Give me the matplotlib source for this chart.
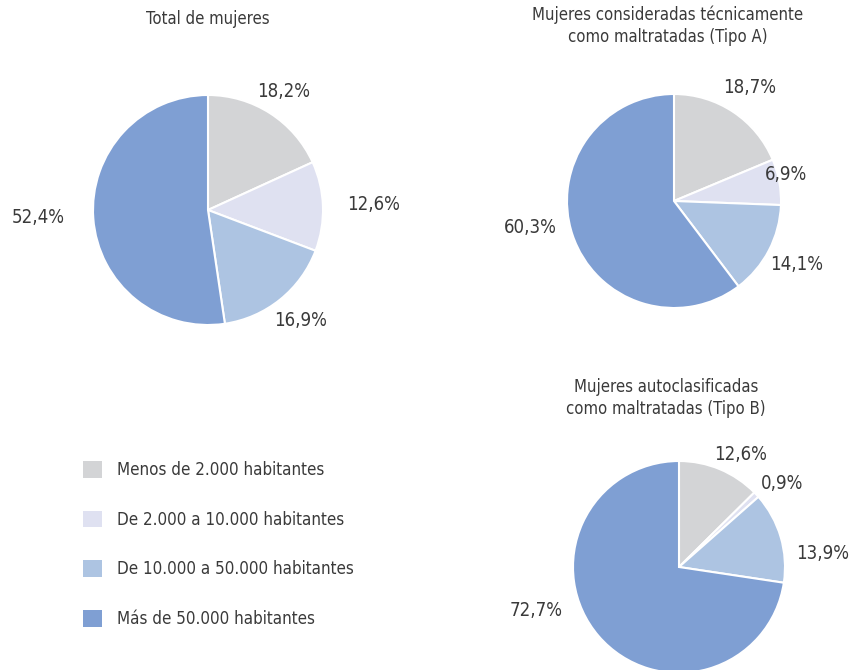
import numpy as np
import matplotlib.pyplot as plt
from matplotlib import font_manager

# --- Data ---
categories = ['Menos de 2.000 habitantes', 'De 2.000 a 10.000 habitantes',
              'De 10.000 a 50.000 habitantes', 'Más de 50.000 habitantes']
total = [18.2, 12.6, 16.9, 52.4]
tipo_a = [18.7, 6.9, 14.1, 60.3]
tipo_b = [12.6, 0.9, 13.9, 72.7]

titles = ['Total de mujeres',
          'Mujeres consideradas técnicamente\ncomo maltratadas (Tipo A)',
          'Mujeres autoclasificadas\ncomo maltratadas (Tipo B)']

colors = ['#d3d4d6', '#dfe1f1', '#adc4e2', '#7f9fd3']
text_color = '#3a3a3a'

# look for a narrow / condensed face, otherwise fall back to Roboto
cands = [f for f in font_manager.fontManager.ttflist
         if f.style == 'normal' and (
             'Narrow' in f.name or 'Condensed' in f.name
             or f.stretch in ('condensed', 'semi-condensed', 'extra-condensed'))]
if cands:
    pick = min(cands, key=lambda f: abs((f.weight if isinstance(f.weight, int) else 400) - 350))
    plt.rcParams['font.family'] = [pick.name, 'DejaVu Sans']
    plt.rcParams['font.stretch'] = pick.stretch
    plt.rcParams['font.weight'] = pick.weight
    narrow = True
else:
    plt.rcParams['font.family'] = ['Roboto', 'DejaVu Sans']
    narrow = False

fs_lab = 13.4 if narrow else 11.8
fs_leg = 12.2 if narrow else 11
fs_tit = 12 if narrow else 10.8

W, H = 850, 670
fig = plt.figure(figsize=(W / 100, H / 100), dpi=100)
ax = fig.add_axes([0, 0, 1, 1])

# layout: (center x, center y from top, radius, title y from top)
pies = [
    (total, (208, 210), 115, 19),
    (tipo_a, (674, 201), 107, 25.5),
    (tipo_b, (679, 567), 106, 398),
]
title_x = [208, 668, 666]
# label placement: distance (in radii) and angle shift (deg) for each wedge
label_dist = [[1.22, 1.44, 1.25, 1.48],
              [1.27, 1.08, 1.29, 1.37],
              [1.21, 1.25, 1.36, 1.41]]
label_shift = [[0, 0, 1, -1.6],
               [0, 3, 0, -8],
               [-6, -4, -11, -24]]

wedges_all = []
for i, (vals, (cx, cy), r, ty) in enumerate(pies):
    cy_ = H - cy
    wedges, _ = ax.pie(vals, colors=colors, startangle=90, counterclock=False,
                       center=(cx, cy_), radius=r, normalize=True,
                       wedgeprops=dict(edgecolor='white', linewidth=1.5))
    wedges_all.append(wedges)
    for j, w in enumerate(wedges):
        ang = np.deg2rad((w.theta1 + w.theta2) / 2 + label_shift[i][j])
        d = r * label_dist[i][j]
        ax.text(cx + d * np.cos(ang), cy_ + d * np.sin(ang),
                f'{vals[j]:.1f}%'.replace('.', ','),
                ha='center', va='center', fontsize=fs_lab, color=text_color)
    ax.text(title_x[i], H - ty, titles[i], ha='center', va='center',
            fontsize=fs_tit, color=text_color, linespacing=1.3)

ax.set_xlim(0, W)
ax.set_ylim(0, H)
ax.set_aspect('equal')
ax.axis('off')

leg = ax.legend(wedges_all[0], categories, loc='upper left',
                bbox_to_anchor=(83 / W, 1 - 461 / H), bbox_transform=fig.transFigure,
                frameon=False, fontsize=fs_leg, handlelength=1.15, handleheight=1.15,
                labelspacing=1.86, handletextpad=0.85, borderpad=0, borderaxespad=0)
for t in leg.get_texts():
    t.set_color(text_color)
for h in leg.legend_handles:
    h.set_edgecolor('none')

fig.savefig('out.png', dpi=100)
